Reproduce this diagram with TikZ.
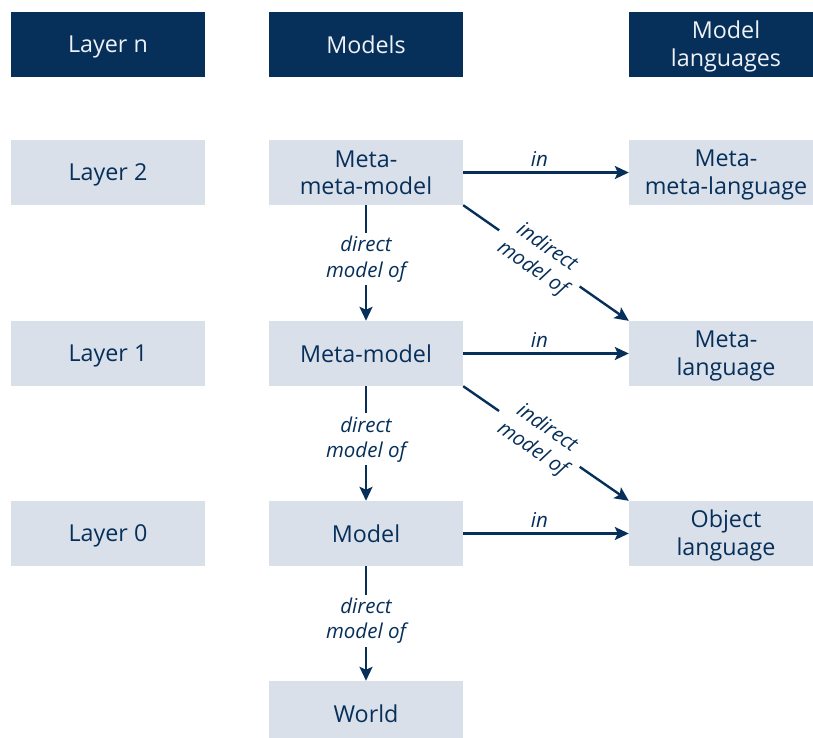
\documentclass[tikz,border=0pt]{standalone}
\usepackage{fontspec}
\setmainfont{Open Sans}
\usetikzlibrary{arrows.meta}
\definecolor{navy}{HTML}{06305A}
\definecolor{pale}{HTML}{DAE0EA}
\definecolor{headtext}{HTML}{EEF1F6}

% uniform line height so that every box text sits at the same level
\newcommand\ls{\rule[-0.2em]{0pt}{1.14em}}

\begin{document}
\begin{tikzpicture}[x=1pt,y=-1pt,
  box/.style={minimum width=194pt, minimum height=65pt, inner sep=0pt,
              align=center, font=\fontsize{23.3}{27.7}\selectfont},
  head/.style={box, fill=navy, text=headtext},
  cell/.style={box, fill=pale, text=navy},
  link/.style={draw=navy, line width=2.4pt,
               -{Stealth[length=14pt,width=13pt,inset=3pt]}},
  lbl/.style={font=\fontsize{20.5}{25.5}\selectfont\itshape, text=navy,
              align=center, fill=white, inner xsep=4pt, inner ysep=3pt},
  inlbl/.style={font=\fontsize{20.5}{25.5}\selectfont\itshape, text=navy,
                inner sep=0pt, above=5pt},
]
\useasboundingbox (0,0) rectangle (813,738);
\clip (0,0) rectangle (813,738);

% column headers
\node[head] (hl) at (108,44.5) {\ls Layer n};
\node[head] (hm) at (366,44.5) {\ls Models};
\node[head] (hg) at (726,44.5) {\ls Model\\\ls languages};

% layers
\node[cell] (l2) at (108,172.5) {\ls Layer 2};
\node[cell] (l1) at (108,353.5) {\ls Layer 1};
\node[cell] (l0) at (108,533.5) {\ls Layer 0};

% models
\node[cell] (mmm) at (366,172.5) {\ls Meta-\\\ls meta-model};
\node[cell] (mm)  at (366,353.5) {\ls Meta-model};
\node[cell] (m)   at (366,533.5) {\ls Model};
\node[cell] (w)   at (366,713.5) {\ls World};

% languages
\node[cell] (mml) at (726,172.5) {\ls Meta-\\\ls meta-language};
\node[cell] (ml)  at (726,353.5) {\ls Meta-\\\ls language};
\node[cell] (ol)  at (726,533.5) {\ls Object\\\ls language};

% "in" relations
\draw[link] (mmm.east) -- node[pos=0.46, inlbl] {in} (mml.west);
\draw[link] (mm.east)  -- node[pos=0.46, inlbl] {in} (ml.west);
\draw[link] (m.east)   -- node[pos=0.46, inlbl] {in} (ol.west);

% direct model relations
\draw[link] (mmm.south) -- node[pos=0.465, lbl] {direct\\model of} (mm.north);
\draw[link] (mm.south)  -- node[pos=0.465, lbl] {direct\\model of} (m.north);
\draw[link] (m.south)   -- node[pos=0.475, lbl] {direct\\model of} (w.north);

% indirect model relations
\draw[link] (mmm.south east) -- node[pos=0.46, lbl, sloped, inner xsep=9pt] {indirect\\model of} (ml.north west);
\draw[link] (mm.south east)  -- node[pos=0.46, lbl, sloped, inner xsep=9pt] {indirect\\model of} (ol.north west);
\end{tikzpicture}
\end{document}
